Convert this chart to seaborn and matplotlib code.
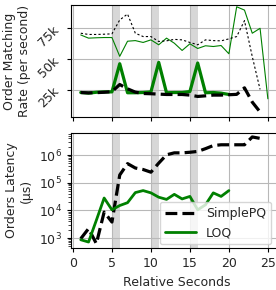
import numpy as np
import pandas as pd
import seaborn as sns
import matplotlib
matplotlib.use("Agg")
import matplotlib.pyplot as plt
from matplotlib.ticker import FuncFormatter

# Data
sec_long = list(range(1, 25))
sec_loq = list(range(1, 21))
sec_req = list(range(1, 26))

# matching rate (orders/s)
simplepq_rate = [22800, 22500, 22700, 23000, 23500, 29300, 25800, 23100, 22000, 21800,
                 21500, 21200, 21200, 21200, 20700, 19600, 20100, 20700, 20700, 21000,
                 21300, 26600, 15000, 7000]
loq_rate = [22800, 22300, 23000, 23300, 23300, 46200, 22600, 22600, 22800, 23300,
            47300, 22600, 22800, 22800, 23600, 46800, 22600, 22800, 22300, 21200]
simplepq_req = [71000, 70000, 70000, 70200, 70500, 81800, 86600, 71000, 68300, 68300,
                64300, 64800, 66000, 65600, 63500, 61600, 65600, 65000, 64800, 66400,
                68300, 81200, 52000, 25300]
loq_req = [69600, 67000, 67300, 67500, 67500, 52200, 64500, 65000, 63500, 65600,
           61600, 67000, 62900, 57000, 62400, 58600, 60800, 60200, 61000, 54300,
           92500, 89800, 71000, 75000, 17700]

# latency (us)
simplepq_lat = [950, 2200, 630, 8700, 3800, 1.9e5, 4.9e5, 3.4e5, 3.0e5, 2.4e5,
                5.1e5, 1.02e6, 1.2e6, 1.2e6, 1.26e6, 1.35e6, 1.7e6, 2.2e6, 2.35e6, 2.35e6,
                2.35e6, 2.35e6, 4.5e6, 4.0e6]
loq_lat = [870, 720, 4400, 2.8e4, 1.05e4, 1.5e4, 1.9e4, 4.4e4, 5.2e4, 4.3e4,
           3.0e4, 2.5e4, 3.8e4, 2.6e4, 3.2e4, 1.05e4, 1.6e4, 4.3e4, 3.2e4, 5.2e4]

spans = [5, 10, 15]
fs = 9

sns.set_style("whitegrid", {"axes.edgecolor": "black", "xtick.bottom": True,
                            "ytick.left": True, "grid.color": "#b8b8b8"})
plt.rcParams['font.family'] = ['DejaVu Sans']
plt.rcParams['font.size'] = fs

fig = plt.figure(figsize=(2.76, 2.90), dpi=100)
ax1 = fig.add_axes([0.257, 0.597, 0.77, 0.386])
ax2 = fig.add_axes([0.257, 0.145, 0.77, 0.396])

for ax in (ax1, ax2):
    for s in spans:
        ax.axvspan(s, s + 1, color="lightgray", alpha=0.9, lw=0, zorder=0)
    ax.set_xlim(-0.26, 27)
    ax.set_xticks([0, 5, 10, 15, 20, 25])
    ax.tick_params(labelsize=fs, length=3, width=0.8, colors="black", labelcolor="#262626")
    for sp in ax.spines.values():
        sp.set_linewidth(0.8)

sns.lineplot(x=sec_req, y=loq_req, ax=ax1, color="green", lw=0.8)
sns.lineplot(x=sec_long, y=simplepq_req, ax=ax1, color="black", lw=0.8, linestyle=(0, (2, 2)))
sns.lineplot(x=sec_loq, y=loq_rate, ax=ax1, color="green", lw=2.3)
sns.lineplot(x=sec_long, y=simplepq_rate, ax=ax1, color="black", lw=2.3, linestyle="--")
ax1.set_ylim(3000, 94000)
ax1.set_yticks([25000, 50000, 75000])
ax1.yaxis.set_major_formatter(FuncFormatter(lambda v, p: "{}k".format(int(v / 1000))))
for lab in ax1.get_yticklabels():
    lab.set_rotation(45)
ax1.set_xticklabels([])
ax1.set_ylabel("Order Matching\nRate (per second)", fontsize=fs, color="#262626")

sns.lineplot(x=sec_long, y=simplepq_lat, ax=ax2, color="black", lw=2.3,
             linestyle="--", label="SimplePQ")
sns.lineplot(x=sec_loq, y=loq_lat, ax=ax2, color="green", lw=2.0, label="LOQ")
ax2.set_yscale("log")
ax2.set_ylim(440, 6.2e6)
ax2.set_yticks([1e3, 1e4, 1e5, 1e6])
ax2.set_ylabel("Orders Latency\n(\u03bcs)", fontsize=fs, color="#262626")
ax2.set_xlabel("Relative Seconds", fontsize=fs, color="#262626")
ax2.legend(loc="lower left", bbox_to_anchor=(0.4, 0.0), fontsize=fs, framealpha=0.8,
           handlelength=2.5, borderaxespad=0.3)

fig.savefig("out.png", dpi=100)
